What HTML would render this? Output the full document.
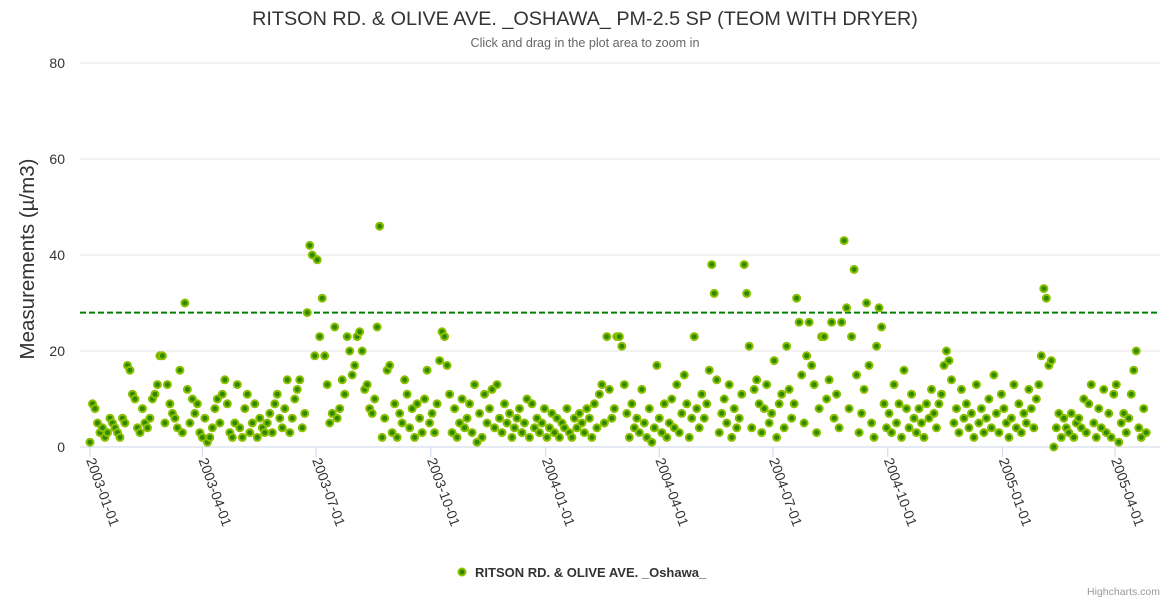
<!DOCTYPE html>
<html><head><meta charset="utf-8"><style>
body{margin:0;background:#fff;font-family:"Liberation Sans",sans-serif}
</style></head><body>
<svg id="chart" width="1170" height="600" xmlns="http://www.w3.org/2000/svg" style="font-family:'Liberation Sans',sans-serif">
<text x="585" y="25" text-anchor="middle" font-size="19.8" fill="#333">RITSON RD. &amp; OLIVE AVE. _OSHAWA_ PM-2.5 SP (TEOM WITH DRYER)</text>
<text x="585" y="47" text-anchor="middle" font-size="12.6" fill="#666">Click and drag in the plot area to zoom in</text>
<text transform="translate(34,259) rotate(-90)" text-anchor="middle" font-size="20.5" fill="#333">Measurements (µ/m3)</text>
<g id="grid"></g><g id="xaxis"></g><g id="points"></g>
<g>
<circle cx="462" cy="572" r="3.5" fill="#2d8a00" stroke="#8cbf00" stroke-width="2"/>
<text x="475" y="577" font-size="13" font-weight="bold" fill="#333">RITSON RD. &amp; OLIVE AVE. _Oshawa_</text>
</g>
<text x="1160" y="595" text-anchor="end" font-size="10.5" fill="#999">Highcharts.com</text>
</svg>
<script>
const yTicks=[0,20,40,60,80];
const xTickLabels=["2003-01-01","2003-04-01","2003-07-01","2003-10-01","2004-01-01","2004-04-01","2004-07-01","2004-10-01","2005-01-01","2005-04-01"];
const thresholdValue=28;
const startDate="2003-01-01";
const stepDays=2;
const values=[
1,9,8,5,3,4,2,3,6,5,4,3,2,6,5,17,16,11,10,4,
3,8,5,4,6,10,11,13,19,19,5,13,9,7,6,4,16,3,30,12,
5,10,7,9,3,2,6,1,2,4,8,10,5,11,14,9,3,2,5,13,
4,2,8,11,3,5,9,2,6,4,3,5,7,3,9,11,6,4,8,14,
3,6,10,12,14,4,7,28,42,40,19,39,23,31,19,13,5,7,25,6,
8,14,11,23,20,15,17,23,24,20,12,13,8,7,10,25,46,2,6,16,
17,3,9,2,7,5,14,11,4,8,2,9,6,3,10,16,5,7,3,9,
18,24,23,17,11,3,8,2,5,10,4,6,9,3,13,1,7,2,11,5,
8,12,4,13,6,3,9,5,7,2,4,6,8,3,5,10,2,9,4,6,
3,5,8,2,4,7,3,6,2,5,4,8,3,2,6,4,7,5,3,8,
6,2,9,4,11,13,5,23,12,6,8,23,23,21,13,7,2,9,4,6,
3,12,5,2,8,1,4,17,6,3,9,2,5,10,4,13,3,7,15,9,
2,6,23,8,4,11,6,9,16,38,32,14,3,7,10,5,13,2,8,4,
6,11,38,32,21,4,12,14,9,3,8,13,5,7,18,2,9,11,4,21,
12,6,9,31,26,15,5,19,26,17,13,3,8,23,23,10,14,26,6,11,
4,26,43,29,8,23,37,15,3,7,12,30,17,5,2,21,29,25,9,4,
7,3,13,5,9,2,16,8,4,11,6,3,8,5,2,9,6,12,7,4,
9,11,17,20,18,14,5,8,3,12,6,9,4,7,2,13,5,8,3,6,
10,4,15,7,3,11,8,5,2,6,13,4,9,3,7,5,12,8,4,10,
13,19,33,31,17,18,0,4,7,2,6,4,3,7,2,5,6,4,10,3,
9,13,5,2,8,4,12,3,7,2,11,13,1,5,7,3,6,11,16,20,
4,2,8,3];
const NS="http://www.w3.org/2000/svg";
const DAY=86400000, t0=Date.parse(startDate), tRef=Date.parse("2005-04-01");
const X0=90, X1=1115;
function xScale(t){return X0+(t-t0)/(tRef-t0)*(X1-X0);}
function yScale(v){return 447-v*(384/80);}
function mk(tag,attrs,parent){const e=document.createElementNS(NS,tag);for(const k in attrs)e.setAttribute(k,attrs[k]);parent.appendChild(e);return e;}
const grid=document.getElementById('grid');
yTicks.forEach(v=>{
  const l=mk('line',{x1:80,x2:1160,y1:yScale(v),y2:yScale(v),stroke:v===0?'#ccd6eb':'#e6e6e6','stroke-width':1},grid);
  
  
  const t=mk('text',{x:65,y:yScale(v)+5,'text-anchor':'end','font-size':14,fill:'#333'},grid);
  t.textContent=v;
  
  
});
const th=mk('line',{x1:80,x2:1160,y1:yScale(thresholdValue),y2:yScale(thresholdValue),stroke:'#008000','stroke-width':2,'stroke-dasharray':'6,3'},grid);


const xa=document.getElementById('xaxis');
xTickLabels.forEach(s=>{
  const x=xScale(Date.parse(s));
  const tk=mk('line',{x1:x,x2:x,y1:447,y2:457,stroke:'#ccd6eb'},xa);
  
  
  const t=mk('text',{transform:`translate(${x-4},460) rotate(70)`,'font-size':14,fill:'#333'},xa);
  t.textContent=s;
  
  
});
const pts=document.getElementById('points');
values.forEach((v,i)=>{
  const c=mk('circle',{cx:xScale(t0+i*stepDays*DAY),cy:yScale(v),r:3.5,fill:'#2d8a00',stroke:'#8cbf00','stroke-width':2},pts);
  
  
});
</script>
</body></html>
